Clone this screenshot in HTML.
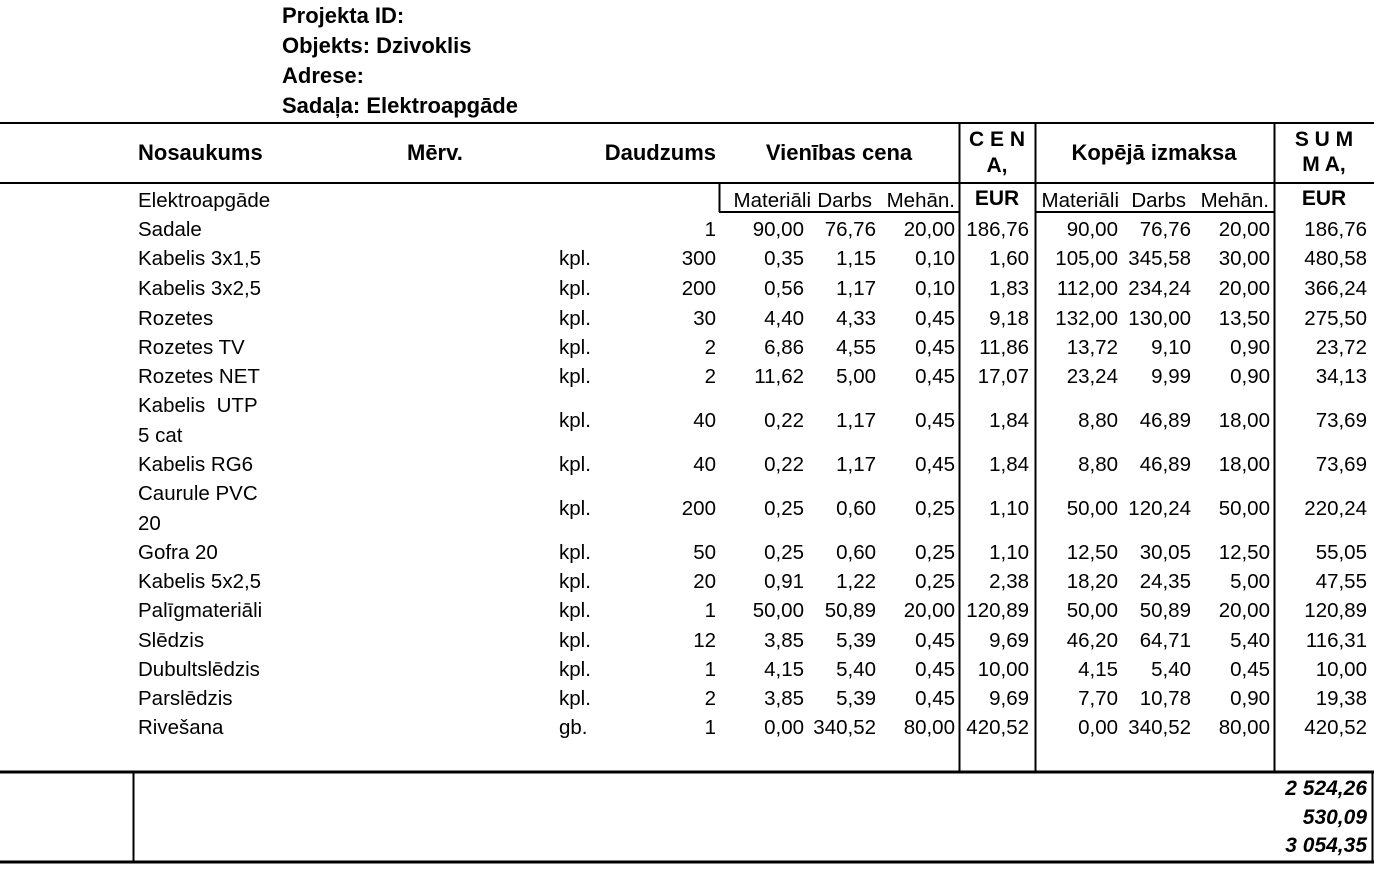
<!DOCTYPE html>
<html><head><meta charset="utf-8"><style>
html,body{margin:0;padding:0;background:#fff;}
svg{display:block;}
text{font-family:"Liberation Sans",Arial,sans-serif;fill:#000;}
.b{font-weight:bold;font-size:22px;}
.n{font-size:20.5px;}
.r{text-anchor:end;}
.t{font-weight:bold;font-style:italic;font-size:21px;text-anchor:end;}
</style></head><body>
<svg width="1374" height="880" viewBox="0 0 1374 880" xmlns="http://www.w3.org/2000/svg">
<g class="b">
<text x="282" y="23">Projekta ID:</text>
<text x="282" y="53">Objekts: Dzivoklis</text>
<text x="282" y="83">Adrese:</text>
<text x="282" y="113">Sadaļa: Elektroapgāde</text>
<text x="138" y="160">Nosaukums</text>
<text x="407" y="160">Mērv.</text>
<text x="716" y="160" text-anchor="end">Daudzums</text>
<text x="839" y="160" text-anchor="middle">Vienības cena</text>
<text x="997" y="146" text-anchor="middle" font-size="21">C E N</text>
<text x="997" y="172" text-anchor="middle" font-size="21">A,</text>
<text x="997" y="205" text-anchor="middle" font-size="21">EUR</text>
<text x="1154" y="160" text-anchor="middle">Kopējā izmaksa</text>
<text x="1324" y="146" text-anchor="middle" font-size="21">S U M</text>
<text x="1324" y="171" text-anchor="middle" font-size="21">M A,</text>
<text x="1324" y="205" text-anchor="middle" font-size="21">EUR</text>
</g>
<g class="n">
<text class="r" x="811" y="207">Materiāli</text><text class="r" x="872" y="207">Darbs</text><text class="r" x="955" y="207">Mehān.</text>
<text class="r" x="1119" y="207">Materiāli</text><text class="r" x="1186" y="207">Darbs</text><text class="r" x="1269" y="207">Mehān.</text>
<text x="138" y="207">Elektroapgāde</text>
</g>
<g stroke="#000" fill="none">
<line x1="0" y1="123" x2="1374" y2="123" stroke-width="2"/>
<line x1="0" y1="183" x2="1374" y2="183" stroke-width="2"/>
<line x1="719.5" y1="183" x2="719.5" y2="212" stroke-width="2"/>
<line x1="719" y1="212" x2="959" y2="212" stroke-width="2"/>
<line x1="1035" y1="212" x2="1274" y2="212" stroke-width="2"/>
<line x1="959.5" y1="123" x2="959.5" y2="772" stroke-width="2"/>
<line x1="1035.5" y1="123" x2="1035.5" y2="772" stroke-width="2"/>
<line x1="1274.5" y1="123" x2="1274.5" y2="772" stroke-width="2"/>
<line x1="0" y1="772" x2="1374" y2="772" stroke-width="3"/>
<line x1="133.5" y1="772" x2="133.5" y2="862" stroke-width="2"/>
<line x1="1372.5" y1="772" x2="1372.5" y2="862" stroke-width="2"/>
<line x1="0" y1="862" x2="1374" y2="862" stroke-width="3"/>
</g>
<g class="n">
<text x="138" y="236">Sadale</text>
<text x="138" y="265">Kabelis 3x1,5</text><text x="559" y="265">kpl.</text>
<text x="138" y="295">Kabelis 3x2,5</text><text x="559" y="295">kpl.</text>
<text x="138" y="325">Rozetes</text><text x="559" y="325">kpl.</text>
<text x="138" y="354">Rozetes TV</text><text x="559" y="354">kpl.</text>
<text x="138" y="383">Rozetes NET</text><text x="559" y="383">kpl.</text>
<text x="138" y="412" xml:space="preserve">Kabelis  UTP</text><text x="138" y="442">5 cat</text><text x="559" y="427">kpl.</text>
<text x="138" y="471">Kabelis RG6</text><text x="559" y="471">kpl.</text>
<text x="138" y="500">Caurule PVC</text><text x="138" y="530">20</text><text x="559" y="515">kpl.</text>
<text x="138" y="559">Gofra 20</text><text x="559" y="559">kpl.</text>
<text x="138" y="588">Kabelis 5x2,5</text><text x="559" y="588">kpl.</text>
<text x="138" y="617">Palīgmateriāli</text><text x="559" y="617">kpl.</text>
<text x="138" y="647">Slēdzis</text><text x="559" y="647">kpl.</text>
<text x="138" y="676">Dubultslēdzis</text><text x="559" y="676">kpl.</text>
<text x="138" y="705">Parslēdzis</text><text x="559" y="705">kpl.</text>
<text x="138" y="734">Rivešana</text><text x="559" y="734">gb.</text>
</g>
<g class="n r" text-anchor="end">
<text x="716" y="236">1</text><text x="804" y="236">90,00</text><text x="876" y="236">76,76</text><text x="955" y="236">20,00</text><text x="1029" y="236">186,76</text><text x="1118" y="236">90,00</text><text x="1191" y="236">76,76</text><text x="1270" y="236">20,00</text><text x="1367" y="236">186,76</text>
<text x="716" y="265">300</text><text x="804" y="265">0,35</text><text x="876" y="265">1,15</text><text x="955" y="265">0,10</text><text x="1029" y="265">1,60</text><text x="1118" y="265">105,00</text><text x="1191" y="265">345,58</text><text x="1270" y="265">30,00</text><text x="1367" y="265">480,58</text>
<text x="716" y="295">200</text><text x="804" y="295">0,56</text><text x="876" y="295">1,17</text><text x="955" y="295">0,10</text><text x="1029" y="295">1,83</text><text x="1118" y="295">112,00</text><text x="1191" y="295">234,24</text><text x="1270" y="295">20,00</text><text x="1367" y="295">366,24</text>
<text x="716" y="325">30</text><text x="804" y="325">4,40</text><text x="876" y="325">4,33</text><text x="955" y="325">0,45</text><text x="1029" y="325">9,18</text><text x="1118" y="325">132,00</text><text x="1191" y="325">130,00</text><text x="1270" y="325">13,50</text><text x="1367" y="325">275,50</text>
<text x="716" y="354">2</text><text x="804" y="354">6,86</text><text x="876" y="354">4,55</text><text x="955" y="354">0,45</text><text x="1029" y="354">11,86</text><text x="1118" y="354">13,72</text><text x="1191" y="354">9,10</text><text x="1270" y="354">0,90</text><text x="1367" y="354">23,72</text>
<text x="716" y="383">2</text><text x="804" y="383">11,62</text><text x="876" y="383">5,00</text><text x="955" y="383">0,45</text><text x="1029" y="383">17,07</text><text x="1118" y="383">23,24</text><text x="1191" y="383">9,99</text><text x="1270" y="383">0,90</text><text x="1367" y="383">34,13</text>
<text x="716" y="427">40</text><text x="804" y="427">0,22</text><text x="876" y="427">1,17</text><text x="955" y="427">0,45</text><text x="1029" y="427">1,84</text><text x="1118" y="427">8,80</text><text x="1191" y="427">46,89</text><text x="1270" y="427">18,00</text><text x="1367" y="427">73,69</text>
<text x="716" y="471">40</text><text x="804" y="471">0,22</text><text x="876" y="471">1,17</text><text x="955" y="471">0,45</text><text x="1029" y="471">1,84</text><text x="1118" y="471">8,80</text><text x="1191" y="471">46,89</text><text x="1270" y="471">18,00</text><text x="1367" y="471">73,69</text>
<text x="716" y="515">200</text><text x="804" y="515">0,25</text><text x="876" y="515">0,60</text><text x="955" y="515">0,25</text><text x="1029" y="515">1,10</text><text x="1118" y="515">50,00</text><text x="1191" y="515">120,24</text><text x="1270" y="515">50,00</text><text x="1367" y="515">220,24</text>
<text x="716" y="559">50</text><text x="804" y="559">0,25</text><text x="876" y="559">0,60</text><text x="955" y="559">0,25</text><text x="1029" y="559">1,10</text><text x="1118" y="559">12,50</text><text x="1191" y="559">30,05</text><text x="1270" y="559">12,50</text><text x="1367" y="559">55,05</text>
<text x="716" y="588">20</text><text x="804" y="588">0,91</text><text x="876" y="588">1,22</text><text x="955" y="588">0,25</text><text x="1029" y="588">2,38</text><text x="1118" y="588">18,20</text><text x="1191" y="588">24,35</text><text x="1270" y="588">5,00</text><text x="1367" y="588">47,55</text>
<text x="716" y="617">1</text><text x="804" y="617">50,00</text><text x="876" y="617">50,89</text><text x="955" y="617">20,00</text><text x="1029" y="617">120,89</text><text x="1118" y="617">50,00</text><text x="1191" y="617">50,89</text><text x="1270" y="617">20,00</text><text x="1367" y="617">120,89</text>
<text x="716" y="647">12</text><text x="804" y="647">3,85</text><text x="876" y="647">5,39</text><text x="955" y="647">0,45</text><text x="1029" y="647">9,69</text><text x="1118" y="647">46,20</text><text x="1191" y="647">64,71</text><text x="1270" y="647">5,40</text><text x="1367" y="647">116,31</text>
<text x="716" y="676">1</text><text x="804" y="676">4,15</text><text x="876" y="676">5,40</text><text x="955" y="676">0,45</text><text x="1029" y="676">10,00</text><text x="1118" y="676">4,15</text><text x="1191" y="676">5,40</text><text x="1270" y="676">0,45</text><text x="1367" y="676">10,00</text>
<text x="716" y="705">2</text><text x="804" y="705">3,85</text><text x="876" y="705">5,39</text><text x="955" y="705">0,45</text><text x="1029" y="705">9,69</text><text x="1118" y="705">7,70</text><text x="1191" y="705">10,78</text><text x="1270" y="705">0,90</text><text x="1367" y="705">19,38</text>
<text x="716" y="734">1</text><text x="804" y="734">0,00</text><text x="876" y="734">340,52</text><text x="955" y="734">80,00</text><text x="1029" y="734">420,52</text><text x="1118" y="734">0,00</text><text x="1191" y="734">340,52</text><text x="1270" y="734">80,00</text><text x="1367" y="734">420,52</text>
</g>
<text class="t" x="1367" y="795">2 524,26</text>
<text class="t" x="1367" y="824">530,09</text>
<text class="t" x="1367" y="852">3 054,35</text>
</svg>
</body></html>
